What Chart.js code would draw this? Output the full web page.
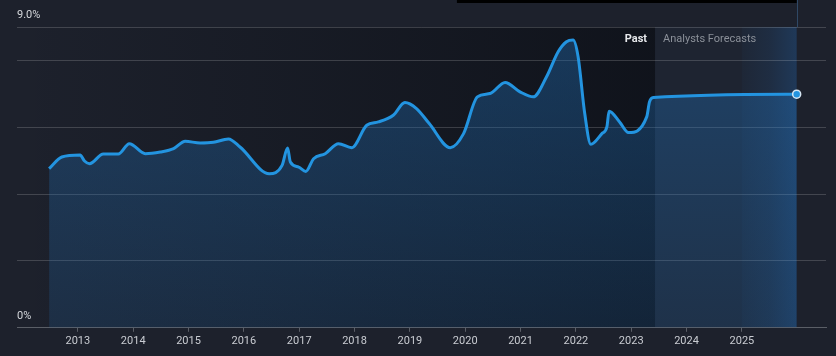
<!DOCTYPE html>
<html><head><meta charset="utf-8">
<script src="https://cdn.jsdelivr.net/npm/chart.js@4.4.1/dist/chart.umd.min.js"></script>
<style>html,body{margin:0;padding:0;background:#1d212c;overflow:hidden}#wrap{width:836px;height:356px;position:relative}</style>
</head><body><div id="wrap"><canvas id="c" width="836" height="356"></canvas></div>
<script>
// Decimal years of each sampled point
const dates = [2012.48, 2012.71, 2013.04, 2013.12, 2013.21, 2013.46, 2013.73, 2013.93, 2014.22, 2014.49,
  2014.73, 2014.94, 2015.21, 2015.45, 2015.72, 2015.93, 2016.46, 2016.69, 2016.79, 2016.84,
  2016.99, 2017.12, 2017.26, 2017.47, 2017.71, 2017.95, 2018.22, 2018.43, 2018.70, 2018.91,
  2019.12, 2019.35, 2019.73, 2019.97, 2020.22, 2020.45, 2020.72, 2020.99, 2021.23, 2021.47,
  2021.68, 2021.83, 2021.95, 2022.04, 2022.16, 2022.27, 2022.47, 2022.56, 2022.60, 2022.79,
  2022.95, 2023.28, 2023.33, 2023.40, 2025.99];
// Values in percent
const margins = [4.76, 5.11, 5.17, 4.99, 4.91, 5.20, 5.20, 5.51, 5.21, 5.26,
  5.36, 5.58, 5.53, 5.55, 5.65, 5.41, 4.61, 4.86, 5.38, 4.96,
  4.81, 4.68, 5.06, 5.21, 5.51, 5.39, 6.06, 6.16, 6.36, 6.74,
  6.56, 6.11, 5.39, 5.81, 6.91, 7.01, 7.34, 7.06, 6.91, 7.51,
  8.26, 8.56, 8.61, 8.11, 6.41, 5.49, 5.81, 6.01, 6.48, 6.16,
  5.84, 6.31, 6.76, 6.89, 6.99];
const yearTicks = [2013, 2014, 2015, 2016, 2017, 2018, 2019, 2020, 2021, 2022, 2023, 2024, 2025];
const valueTicks = [0, 2, 4, 6, 8, 9];
const valueLabels = {0: '0%', 9: '9.0%'};
const xRange = [2011.9, 2026.52];
const forecastStart = 2023.43;
const highlightStart = 2025.0;
const topBarStart = 2019.85;
const pastLabel = 'Past';
const forecastLabel = 'Analysts Forecasts';

const points = dates.map((d, i) => ({x: d, y: margins[i]}));

const bgPlugin = {
  id: 'bg',
  beforeDraw(chart) {
    const {ctx, chartArea: a, scales: {x}} = chart;
    ctx.save();
    ctx.fillStyle = '#1d212c';
    ctx.fillRect(0, 0, chart.width, chart.height);
    const fs = x.getPixelForValue(forecastStart);
    const end = x.getPixelForValue(dates[dates.length - 1]);
    const hs = x.getPixelForValue(highlightStart);
    const g = ctx.createLinearGradient(a.left, 0, fs, 0);
    g.addColorStop(0, 'rgba(5,8,14,0)');
    g.addColorStop(1, 'rgba(5,8,14,0.55)');
    ctx.fillStyle = g;
    ctx.fillRect(a.left, a.top, fs - a.left, a.bottom - a.top);
    ctx.fillStyle = 'rgba(40,60,90,0.12)';
    ctx.fillRect(fs, a.top, end - fs, a.bottom - a.top);
    const h = ctx.createLinearGradient(hs, 0, end, 0);
    h.addColorStop(0, 'rgba(35,110,190,0.04)');
    h.addColorStop(0.5, 'rgba(35,110,190,0.12)');
    h.addColorStop(1, 'rgba(35,110,190,0.28)');
    ctx.fillStyle = h;
    ctx.fillRect(hs, a.top, end - hs, a.bottom - a.top);
    ctx.restore();
  },
  afterDraw(chart) {
    const {ctx, chartArea: a, scales: {x}} = chart;
    const fs = x.getPixelForValue(forecastStart);
    const end = x.getPixelForValue(dates[dates.length - 1]);
    const tb = x.getPixelForValue(topBarStart);
    ctx.save();
    ctx.fillStyle = '#000000';
    ctx.fillRect(tb, 0, end - tb, 3);
    ctx.strokeStyle = 'rgba(70,120,170,0.45)';
    ctx.lineWidth = 1;
    ctx.beginPath();
    ctx.moveTo(Math.round(end) + 0.5, 0);
    ctx.lineTo(Math.round(end) + 0.5, a.top);
    ctx.stroke();
    ctx.textBaseline = 'middle';
    ctx.font = 'bold 11px Roboto';
    ctx.fillStyle = '#e6e8eb';
    ctx.textAlign = 'right';
    ctx.fillText(pastLabel, fs - 8, a.top + 12);
    ctx.font = '11px Roboto';
    ctx.fillStyle = '#8b9099';
    ctx.textAlign = 'left';
    ctx.fillText(forecastLabel, fs + 8, a.top + 12);
    ctx.restore();
  }
};

new Chart(document.getElementById('c'), {
  type: 'line',
  data: {
    datasets: [{
      data: points,
      borderColor: '#2394e0',
      borderWidth: 3,
      cubicInterpolationMode: 'monotone',
      fill: 'origin',
      backgroundColor(ctx) {
        const a = ctx.chart.chartArea;
        if (!a) return 'rgba(33,110,180,0.25)';
        const g = ctx.chart.ctx.createLinearGradient(0, a.top, 0, a.bottom);
        g.addColorStop(0, 'rgba(33,112,185,0.40)');
        g.addColorStop(1, 'rgba(33,112,185,0.18)');
        return g;
      },
      pointRadius: points.map((p, i) => i === points.length - 1 ? 4 : 0),
      pointBackgroundColor: '#2394e0',
      pointBorderColor: '#d6e6f3',
      pointBorderWidth: 1.5,
      clip: false
    }]
  },
  options: {
    responsive: false,
    animation: false,
    devicePixelRatio: 1,
    layout: {padding: {left: 17, right: 10, top: 27, bottom: 5}},
    plugins: {legend: {display: false}, tooltip: {enabled: false}},
    scales: {
      x: {
        type: 'linear',
        min: xRange[0], max: xRange[1],
        afterBuildTicks(s) { s.ticks = yearTicks.map(v => ({value: v})); },
        grid: {drawOnChartArea: false, drawTicks: true, tickLength: 4, color: '#5a5e66'},
        border: {display: true, color: '#5a5e66', width: 1},
        ticks: {color: '#c9ccd2', font: {family: 'Roboto', size: 11}, padding: 3, maxRotation: 0, autoSkip: false,
          callback: v => String(v)}
      },
      y: {
        min: 0, max: 9,
        afterBuildTicks(s) { s.ticks = valueTicks.map(v => ({value: v})); },
        grid: {drawTicks: false, color: 'rgba(255,255,255,0.17)'},
        border: {display: false},
        ticks: {mirror: true, padding: 0, labelOffset: -12, color: '#d5d8dc', font: {family: 'Roboto', size: 11},
          callback: v => valueLabels[v] !== undefined ? valueLabels[v] : ''}
      }
    }
  },
  plugins: [bgPlugin]
});
</script></body></html>
